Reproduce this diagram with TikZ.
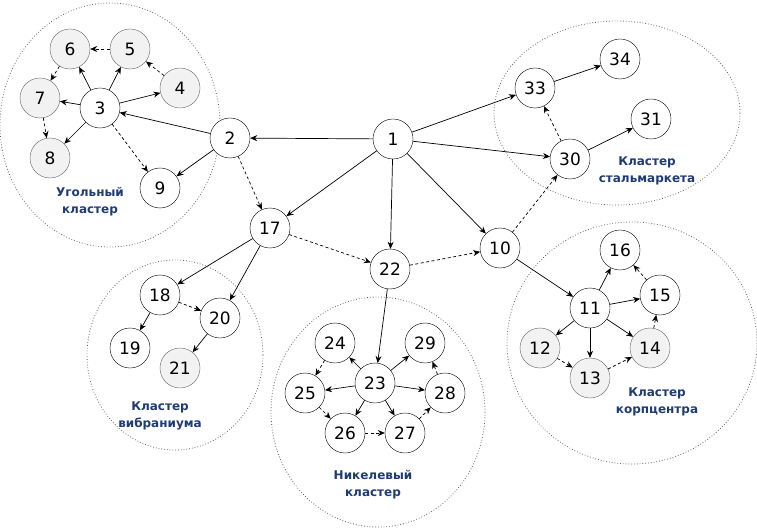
\documentclass[tikz,border=0pt]{standalone}
\usepackage{fontspec}
\setmainfont{DejaVu Sans}
\usetikzlibrary{arrows.meta}
\definecolor{navy}{HTML}{1F3B73}
\definecolor{greyfill}{HTML}{F2F2F2}
\begin{document}
\begin{tikzpicture}[x=1pt,y=-1pt,
  nd/.style={circle,draw=black,fill=white,minimum size=40pt,inner sep=0pt,font=\fontsize{17}{17}\selectfont},
  gn/.style={nd,draw=black!60,fill=greyfill},
  cl/.style={draw=black!60,dotted,line width=0.8pt},
  lab/.style={font=\bfseries\fontsize{12}{17}\selectfont,text=navy,align=center},
  ar/.style={-{Stealth[length=7pt,width=6pt]},line width=0.7pt},
  dar/.style={ar,dash pattern=on 3pt off 2.5pt}]
\useasboundingbox (0,0) rectangle (757,529);
% clusters
\draw[cl] (110,125) ellipse [x radius=110,y radius=122];
\draw[cl] (617,113) ellipse [x radius=123,y radius=92];
\draw[cl] (632,343) ellipse [x radius=125,y radius=121];
\draw[cl] (175,355) ellipse [x radius=88,y radius=95];
\draw[cl] (378,412) ellipse [x radius=107,y radius=115];
% labels
\node[lab] (lcoal) at (90,202) {Угольный\\кластер};
\node[lab] (lsteel) at (647,171) {Кластер\\стальмаркета};
\node[lab] (lcorp) at (657,402) {Кластер\\корпцентра};
\node[lab] (lvib) at (160,416) {Кластер\\вибраниума};
\node[lab] (lnick) at (373,485) {Никелевый\\кластер};
% nodes
\node[nd] (n1) at (393,139) {1};
\node[nd] (n2) at (230,138) {2};
\node[nd] (n3) at (100,108) {3};
\node[gn] (n4) at (180,88) {4};
\node[gn] (n5) at (130,49) {5};
\node[gn] (n6) at (70,49) {6};
\node[gn] (n7) at (40,98) {7};
\node[gn] (n8) at (50,158) {8};
\node[nd] (n9) at (160,188) {9};
\node[nd] (n10) at (500,248) {10};
\node[nd] (n11) at (590,308) {11};
\node[gn] (n12) at (540,348) {12};
\node[gn] (n13) at (590,378) {13};
\node[gn] (n14) at (650,348) {14};
\node[nd] (n15) at (660,295) {15};
\node[nd] (n16) at (620,250) {16};
\node[nd] (n17) at (270,228) {17};
\node[nd] (n18) at (160,295) {18};
\node[nd] (n19) at (130,348) {19};
\node[nd] (n20) at (220,318) {20};
\node[gn] (n21) at (180,368) {21};
\node[nd] (n22) at (390,269) {22};
\node[nd] (n23) at (375,383) {23};
\node[nd] (n24) at (335,343) {24};
\node[nd] (n25) at (305,393) {25};
\node[nd] (n26) at (345,433) {26};
\node[nd] (n27) at (405,433) {27};
\node[nd] (n28) at (445,393) {28};
\node[nd] (n29) at (425,343) {29};
\node[nd] (n30) at (570,159) {30};
\node[nd] (n31) at (651,119) {31};
\node[nd] (n33) at (535,88) {33};
\node[nd] (n34) at (620,59) {34};
% solid edges
\foreach \a/\b in {1/2,1/17,1/22,1/10,1/33,1/30,2/3,2/9,3/6,3/5,3/4,3/7,3/8,
  17/18,17/20,18/19,20/21,22/23,10/11,30/31,33/34,
  11/16,11/15,11/14,11/13,11/12,23/24,23/29,23/25,23/28,23/26,23/27}
  \draw[ar] (n\a) -- (n\b);
% dashed edges
\foreach \a/\b in {2/17,3/9,5/6,4/5,6/7,7/8,17/22,18/20,22/10,10/30,30/33,
  12/13,13/14,14/15,15/16,24/25,25/26,26/27,27/28,28/29}
  \draw[dar] (n\a) -- (n\b);
\end{tikzpicture}
\end{document}
